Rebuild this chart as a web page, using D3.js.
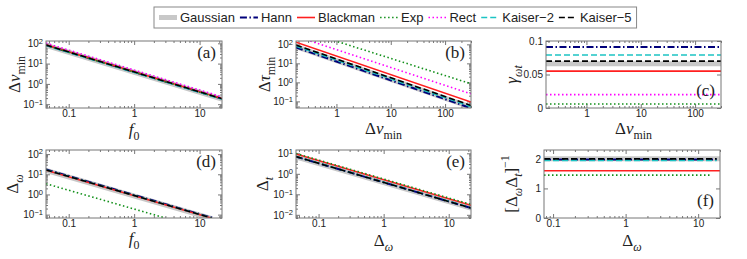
<!DOCTYPE html>
<meta charset="utf-8">
<style>
body { margin: 0; background: #fff; }
.tick text { font: 10px "Liberation Sans", Arial, sans-serif; fill: #222; }
.tick line { stroke: #777; }
.frame { fill: none; stroke: #777; stroke-width: 1; }
.lab { font-family: "Liberation Serif", "Times New Roman", serif; fill: #222; }
.leg { font: 13px "Liberation Sans", Arial, sans-serif; fill: #222; }
</style>
<body>
<div id="chart"></div>
<script src="https://d3js.org/d3.v7.min.js"></script>
<script>

// window names, in drawing order
var names = ["Gaussian", "Hann", "Blackman", "Exp", "Rect", "Kaiser\u22122", "Kaiser\u22125"];

// (a) Δν_min vs f0 : [start, end] points of each line
var dnuMin = [
  [[0.045, 78], [22, 0.18]],
  [[0.045, 82], [22, 0.185]],
  [[0.045, 84], [22, 0.19]],
  [[0.045, 80], [22, 0.18]],
  [[0.045, 102], [22, 0.23]],
  [[0.045, 78], [22, 0.175]],
  [[0.045, 82], [22, 0.185]]
];

// (b) Δτ_min vs Δν_min
var dtauMin = [
  [[0.18, 75], [300, 0.05]],
  [[0.18, 69], [300, 0.044]],
  [[0.18, 130], [300, 0.092]],
  [[0.9, 160], [300, 0.85]],
  [[0.33, 150], [300, 0.25]],
  [[0.18, 80], [300, 0.053]],
  [[0.18, 92], [300, 0.061]]
];

// (c) γ_ωt, constant over Δν_min
var nuRange = [0.18, 300];
var gammaWT = [0.066, 0.091, 0.055, 0.006, 0.02, 0.079, 0.070];

// (d) Δω vs f0 (Rect not shown)
var dOmega = [
  [[0.045, 15.5], [15.4, 0.064]],
  [[0.045, 17.5], [16, 0.068]],
  [[0.045, 16], [15, 0.068]],
  [[0.045, 3.4], [3.0, 0.068]],
  null,
  [[0.045, 16.5], [15.4, 0.068]],
  [[0.045, 16.5], [15.4, 0.068]]
];

// (e) Δt vs Δω (Rect not shown)
var dT = [
  [[0.045, 6.7], [22, 0.021]],
  [[0.045, 6.9], [22, 0.0215]],
  [[0.045, 9.3], [22, 0.029]],
  [[0.045, 9.8], [22, 0.032]],
  null,
  [[0.045, 7.0], [22, 0.022]],
  [[0.045, 6.9], [22, 0.0215]]
];

// (f) [Δω Δt]^-1 vs Δω, with the Δω where each line stops
var invProd = [2.0, 1.98, 1.6, 1.45, null, 1.95, 2.0];
var invStart = 0.075;
var invEnd = [20, 18, 20, 15, null, 18, 18];

var colors = ["#c8c8c8", "#00007a", "#ff1f1f", "#12901a", "#ff00ff", "#1cc4c4", "#000000"];
var widths = [5, 2, 1.6, 1.6, 1.6, 1.6, 1.6];
var dashes = [null, "7,2.5,1.5,2.5", null, "1.5,2.5", "1.5,2.5", "6,3", "6,3"];

var svg = d3.select("#chart").append("svg")
    .attr("width", 747)
    .attr("height", 259);

function logMinors(dom) {
  var out = [];
  var lo = Math.floor(Math.log10(dom[0])), hi = Math.ceil(Math.log10(dom[1]));
  for (var k = lo; k <= hi; k++)
    for (var m = 2; m <= 9; m++) {
      var v = m * Math.pow(10, k);
      if (v >= dom[0] && v <= dom[1]) out.push(v);
    }
  return out;
}

// parts: [text, kind] with kind n | i | sub | subi | sup
function mathText(sel, parts, size) {
  var shift = 0;
  parts.forEach(function(p) {
    var k = p[1] || "n";
    var want = (k == "sub" || k == "subi") ? 0.32 : (k == "sup" ? -0.45 : 0);
    sel.append("tspan")
      .attr("dy", ((want - shift) * size) + "px")
      .style("font-size", (want ? size * 0.7 : size) + "px")
      .style("font-style", (k == "i" || k == "subi") ? "italic" : "normal")
      .text(p[0]);
    shift = want;
  });
}

function drawPanel(p) {
  var g = svg.append("g").attr("transform", "translate(" + p.left + "," + p.top + ")");
  var x = d3.scaleLog().domain(p.xDom).range([0, p.w]);
  var y = (p.yLog ? d3.scaleLog() : d3.scaleLinear()).domain(p.yDom).range([p.h, 0]);

  var clipId = "clip" + p.tag;
  g.append("clipPath").attr("id", clipId)
    .append("rect").attr("width", p.w).attr("height", p.h);

  // minor ticks
  var xm = logMinors(p.xDom);
  g.append("g").attr("transform", "translate(0," + p.h + ")")
    .call(d3.axisBottom(x).tickValues(xm).tickSize(-2).tickFormat(""));
  g.append("g").call(d3.axisTop(x).tickValues(xm).tickSize(-2).tickFormat(""));
  if (p.yLog) {
    var ym = logMinors(p.yDom);
    g.append("g").call(d3.axisLeft(y).tickValues(ym).tickSize(-2).tickFormat(""));
    g.append("g").attr("transform", "translate(" + p.w + ",0)")
      .call(d3.axisRight(y).tickValues(ym).tickSize(-2).tickFormat(""));
  }

  // major ticks
  g.append("g").attr("transform", "translate(0," + p.h + ")")
    .call(d3.axisBottom(x).tickValues(p.xTicks).tickSize(-4).tickPadding(2).tickFormat(d3.format("~g")));
  g.append("g").call(d3.axisTop(x).tickValues(p.xTicks).tickSize(-4).tickFormat(""));
  var gy = g.append("g")
    .call(d3.axisLeft(y).tickValues(p.yTicks).tickSize(-4).tickPadding(3)
      .tickFormat(p.yLog ? function() { return ""; } : d3.format("~g")));
  g.append("g").attr("transform", "translate(" + p.w + ",0)")
    .call(d3.axisRight(y).tickValues(p.yTicks).tickSize(-4).tickFormat(""));
  g.selectAll(".domain").remove();

  if (p.yLog) {
    gy.selectAll(".tick text").each(function(d) {
      var t = d3.select(this);
      t.append("tspan").text("10");
      t.append("tspan").attr("dy", "-0.45em").style("font-size", "7.5px")
        .text(String(Math.round(Math.log10(d))).replace("-", "\u2212"));
    });
  }

  var line = d3.line()
    .x(function(d) { return x(d[0]); })
    .y(function(d) { return y(d[1]); });

  g.append("g").attr("clip-path", "url(#" + clipId + ")")
    .selectAll("path")
    .data(p.series.map(function(s, i) { return {pts: s, i: i}; })
      .filter(function(d) { return d.pts; }))
    .enter().append("path")
      .attr("d", function(d) { return line(d.pts); })
      .attr("fill", "none")
      .attr("stroke", function(d) { return colors[d.i]; })
      .attr("stroke-width", function(d) { return widths[d.i]; })
      .attr("stroke-dasharray", function(d) { return dashes[d.i]; });

  g.append("rect").attr("class", "frame").attr("width", p.w).attr("height", p.h);

  // panel tag
  g.append("text").attr("class", "lab")
    .attr("x", p.w - 6)
    .attr("y", p.tagLow ? p.h - 12 : 17)
    .attr("text-anchor", "end")
    .style("font-size", "17px")
    .text("(" + p.tag + ")");

  // axis labels
  var xl = g.append("text").attr("class", "lab")
    .attr("x", p.w / 2).attr("y", p.xLabY)
    .attr("text-anchor", "middle");
  mathText(xl, p.xLab, 17);
  var yl = g.append("text").attr("class", "lab")
    .attr("transform", "translate(" + p.yLabX + "," + (p.h / 2) + ") rotate(-90)")
    .attr("text-anchor", "middle");
  mathText(yl, p.yLab, 17);
}

var labF0 = [["f", "i"], ["0", "sub"]];
var labNu = [["\u0394", "n"], ["\u03bd", "i"], ["min", "sub"]];
var labOm = [["\u0394", "n"], ["\u03c9", "subi"]];

drawPanel({tag: "a", left: 46, top: 41, w: 176, h: 67, xDom: [0.045, 22], yDom: [0.065, 130], yLog: true,
  xTicks: [0.1, 1, 10], yTicks: [0.1, 1, 10, 100], series: dnuMin,
  xLab: labF0, xLabY: 94, yLab: labNu, yLabX: -26});

drawPanel({tag: "b", left: 296, top: 41, w: 175, h: 67, xDom: nuRange, yDom: [0.045, 150], yLog: true,
  xTicks: [1, 10, 100], yTicks: [0.1, 1, 10, 100], series: dtauMin,
  xLab: labNu, xLabY: 93, yLab: [["\u0394", "n"], ["\u03c4", "i"], ["min", "sub"]], yLabX: -26});

drawPanel({tag: "c", left: 546, top: 41, w: 175, h: 67, xDom: nuRange, yDom: [0, 0.1], yLog: false,
  xTicks: [1, 10, 100], yTicks: [0, 0.05, 0.1],
  series: gammaWT.map(function(v) { return [[nuRange[0], v], [nuRange[1], v]]; }),
  tagLow: true,
  xLab: labNu, xLabY: 93, yLab: [["\u03b3", "i"], ["\u03c9t", "subi"]], yLabX: -29});

drawPanel({tag: "d", left: 46, top: 150, w: 176, h: 68, xDom: [0.045, 22], yDom: [0.068, 160], yLog: true,
  xTicks: [0.1, 1, 10], yTicks: [0.1, 1, 10, 100], series: dOmega,
  xLab: labF0, xLabY: 94, yLab: labOm, yLabX: -28});

drawPanel({tag: "e", left: 296, top: 150, w: 175, h: 68, xDom: [0.045, 22], yDom: [0.007, 14.5], yLog: true,
  xTicks: [0.1, 1, 10], yTicks: [0.01, 0.1, 1, 10], series: dT,
  xLab: labOm, xLabY: 96, yLab: [["\u0394", "n"], ["t", "subi"]], yLabX: -28});

drawPanel({tag: "f", left: 544, top: 150, w: 176, h: 68, xDom: [0.075, 20], yDom: [0, 2.3], yLog: false,
  xTicks: [0.1, 1, 10], yTicks: [0, 1, 2],
  series: invProd.map(function(v, i) { return v == null ? null : [[invStart, v], [invEnd[i], v]]; }),
  tagLow: true,
  xLab: labOm, xLabY: 96,
  yLab: [["[\u0394", "n"], ["\u03c9", "subi"], ["\u0394", "n"], ["t", "subi"], ["]", "n"], ["\u22121", "sup"]],
  yLabX: -27});

// legend
var leg = svg.append("g");
var lx = 159, ly = 17.5;
names.forEach(function(n, i) {
  leg.append("line")
    .attr("x1", lx).attr("x2", lx + 18).attr("y1", ly).attr("y2", ly)
    .attr("stroke", colors[i])
    .attr("stroke-width", widths[i])
    .attr("stroke-dasharray", dashes[i]);
  var t = leg.append("text").attr("class", "leg")
    .attr("x", lx + 21).attr("y", ly + 4.6).text(n);
  lx = lx + 21 + t.node().getComputedTextLength() + 5;
});
leg.insert("rect", ":first-child")
  .attr("x", 154).attr("y", 7)
  .attr("width", lx - 154).attr("height", 21)
  .attr("fill", "#fff").attr("stroke", "#888");

</script>
</body>
